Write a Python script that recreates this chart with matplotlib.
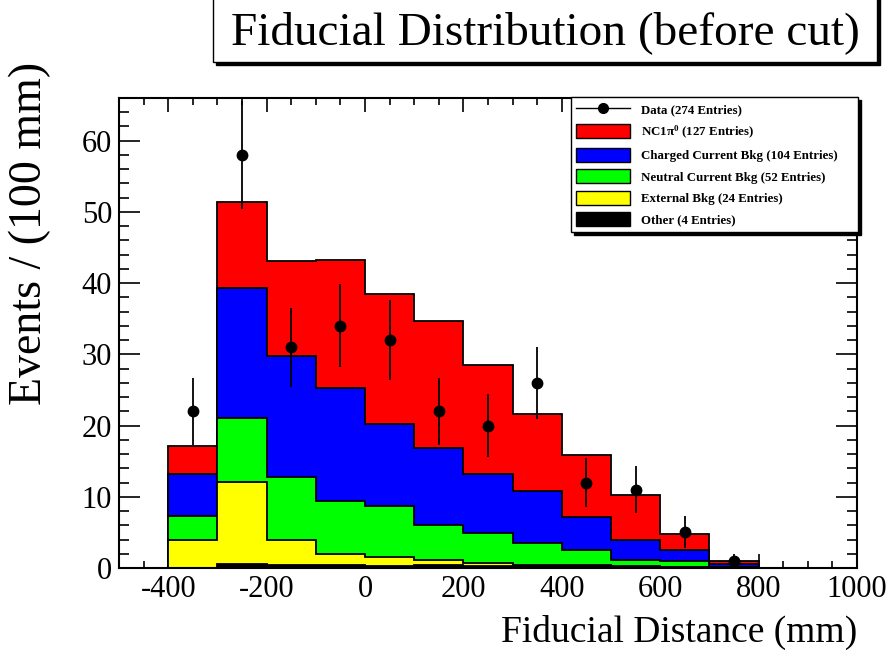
import numpy as np
import matplotlib
matplotlib.use("Agg")
import matplotlib.pyplot as plt
from matplotlib.patches import Rectangle, Patch
from matplotlib.lines import Line2D
from matplotlib.ticker import MultipleLocator

plt.rcParams['font.family'] = ['Liberation Serif', 'DejaVu Serif']
plt.rcParams['axes.unicode_minus'] = False
plt.rcParams['mathtext.fontset'] = 'custom'
plt.rcParams['mathtext.rm'] = 'Liberation Serif:bold'
plt.rcParams['mathtext.it'] = 'Liberation Serif:bold'
plt.rcParams['mathtext.bf'] = 'Liberation Serif:bold'

# 100 mm bins from -400 to 800 mm
bin_edges = np.arange(-400, 801, 100)
bin_centers = 0.5 * (bin_edges[:-1] + bin_edges[1:])

data_counts = np.array([22, 58, 31, 34, 32, 22, 20, 26, 12, 11, 5, 1])

# MC components, per bin (stacked bottom to top)
other    = np.array([0.0, 0.5, 0.4, 0.4, 0.3, 0.4, 0.3, 0.3, 0.35, 0.2, 0.1, 0.05])
external = np.array([3.9, 11.55, 3.55, 1.55, 1.25, 0.7, 0.45, 0.15, 0.05, 0.1, 0.1, 0.0])
nc_bkg   = np.array([3.4, 9.05, 8.85, 7.5, 7.15, 4.9, 4.2, 3.0, 2.1, 0.85, 0.75, 0.05])
cc_bkg   = np.array([5.9, 18.2, 17.0, 15.85, 11.55, 10.8, 8.3, 7.3, 4.7, 2.85, 1.6, 0.5])
nc1pi0   = np.array([3.9, 12.1, 13.25, 17.9, 18.25, 17.9, 15.2, 10.85, 8.65, 6.25, 2.25, 0.45])

components = [other, external, nc_bkg, cc_bkg, nc1pi0]
colors = ['#000000', '#ffff00', '#00ff00', '#0000ff', '#ff0000']
labels = ['Other (4 Entries)', 'External Bkg (24 Entries)',
          'Neutral Current Bkg (52 Entries)', 'Charged Current Bkg (104 Entries)',
          r'NC1$\pi^{0}$ (127 Entries)']
data_label = 'Data (274 Entries)'

W, H = 891, 651
fig = plt.figure(figsize=(W / 100, H / 100), dpi=100)
ax = fig.add_axes([119 / W, 1 - 568 / H, (857 - 119) / W, (568 - 98) / H])

# stacked histogram: draw cumulative sums from the top layer down
cumulative = np.cumsum(np.vstack(components), axis=0)
for level in range(len(components) - 1, -1, -1):
    ax.stairs(cumulative[level], bin_edges, baseline=0, fill=True,
              facecolor=colors[level], edgecolor='black', linewidth=1.3, zorder=2)

ax.errorbar(bin_centers, data_counts, yerr=np.sqrt(data_counts), fmt='o',
            color='black', ms=7.5, elinewidth=1.3, capsize=0, zorder=4)

ax.set_xlim(-500, 1000)
ax.set_ylim(0, 66)
ax.xaxis.set_major_locator(MultipleLocator(200))
ax.xaxis.set_minor_locator(MultipleLocator(50))
ax.yaxis.set_major_locator(MultipleLocator(10))
ax.yaxis.set_minor_locator(MultipleLocator(2))
ax.tick_params(axis='both', which='both', direction='in', top=True, right=True,
               width=1.2, labelsize=22, colors='black')
ax.tick_params(axis='x', which='major', length=10, pad=5)
ax.tick_params(axis='x', which='minor', length=5)
ax.tick_params(axis='y', which='major', length=15, pad=5)
ax.tick_params(axis='y', which='minor', length=7.5)
for s in ax.spines.values():
    s.set_linewidth(1.5)

fig.text(30 / W, 1 - 62 / H, 'Events / (100 mm)', rotation=90, ha='center',
         va='top', fontsize=33)
fig.text(857 / W, 1 - 632 / H, 'Fiducial Distance (mm)', ha='right',
         va='center', fontsize=27)

# legend
handles = [Line2D([], [], color='black', marker='o', ms=7, lw=1.0)]
handle_labels = [data_label]
for level in range(len(components) - 1, -1, -1):
    handles.append(Patch(facecolor=colors[level], edgecolor='black', linewidth=1.0))
    handle_labels.append(labels[level])
leg = fig.legend(handles, handle_labels, loc='upper left',
                 bbox_to_anchor=(571 / W, 1 - 97 / H, (858 - 571) / W, 0.0),
                 mode='expand', prop={'weight': 'bold', 'size': 9.3},
                 frameon=True, fancybox=False,
                 shadow={'color': 'black', 'alpha': 1.0},
                 handlelength=4.2, handleheight=1.3, handletextpad=0.8,
                 labelspacing=0.55, borderpad=0.4, borderaxespad=0.0)
leg.get_frame().set_edgecolor('black')
leg.get_frame().set_linewidth(1.0)

# title box with shadow
bx0, bx1, by1 = 213 / W, 877 / W, 1 - 62 / H
fig.patches.append(Rectangle((bx0 + 3 / W, by1 - 3 / H), bx1 - bx0, 0.2,
                             transform=fig.transFigure, facecolor='black',
                             edgecolor='black', zorder=1))
fig.patches.append(Rectangle((bx0, by1), bx1 - bx0, 0.2,
                             transform=fig.transFigure, facecolor='white',
                             edgecolor='black', linewidth=1.0, zorder=2))
fig.text((bx0 + bx1) / 2, 1 - 33 / H, 'Fiducial Distribution (before cut)',
         ha='center', va='center', fontsize=34, zorder=3)

fig.savefig('out.png', dpi=100)
